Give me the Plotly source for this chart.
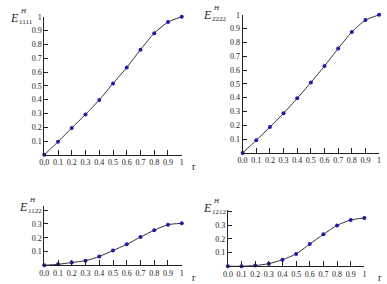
import plotly.graph_objects as go

r = [0.0, 0.1, 0.2, 0.3, 0.4, 0.5, 0.6, 0.7, 0.8, 0.9, 1.0]
e1111 = [0.0, 0.095, 0.195, 0.293, 0.398, 0.517, 0.633, 0.762, 0.881, 0.962, 1.0]
e2222 = [0.0, 0.091, 0.187, 0.287, 0.395, 0.510, 0.629, 0.756, 0.876, 0.962, 1.0]
e1122 = [0.0, 0.007, 0.020, 0.033, 0.064, 0.107, 0.152, 0.205, 0.255, 0.295, 0.305]
e1212 = [0.0, 0.0, 0.005, 0.019, 0.048, 0.090, 0.162, 0.233, 0.298, 0.338, 0.352]

xtick_vals = [0.0, 0.1, 0.2, 0.3, 0.4, 0.5, 0.6, 0.7, 0.8, 0.9, 1.0]
xtick_left = ["0,0", "0.1", "0.2", "0.3", "0.4", "0.5", "0.6", "0.7", "0.8", "0.9", "1"]
xtick_right = ["0.0", "0.1", "0.2", "0.3", "0.4", "0.5", "0.6", "0.7", "0.8", "0.9", "1"]
ytick_big_vals = [0.1, 0.2, 0.3, 0.4, 0.5, 0.6, 0.7, 0.8, 0.9, 1.0]
ytick_big = ["0.1", "0.2", "0.3", "0.4", "0.5", "0.6", "0.7", "0.8", "0.9", "1"]
ytick_small_vals = [0.1, 0.2, 0.3, 0.4]
ytick_small = ["0.1", "0.2", "0.3", ""]

W, H = 387, 284
FONT = "Liberation Serif"

def px_x(p):
    return p / W

def px_y(p):
    return 1 - p / H

panels = [
    (e1111, 40, 180, 153, 13, [0, 1.0], ytick_big_vals, ytick_big, xtick_left),
    (e2222, 242, 381, 151, 11, [0, 1.0], ytick_big_vals, ytick_big, xtick_right),
    (e1122, 40, 180, 265, 205, [0, 0.43], ytick_small_vals, ytick_small, xtick_left),
    (e1212, 227, 366, 266, 209, [0, 0.41], ytick_small_vals, ytick_small, xtick_right),
]

fig = go.Figure()
layout = dict(
    width=W, height=H, margin=dict(l=0, r=0, t=0, b=0),
    paper_bgcolor="white", plot_bgcolor="white", showlegend=False,
    font=dict(family=FONT, size=8, color="#222"),
)

for i, (ys, x0, x1, yb, yt, yr, yv, yl, xl) in enumerate(panels):
    n = "" if i == 0 else str(i + 1)
    fig.add_trace(go.Scatter(
        x=r, y=ys, mode="lines+markers",
        line=dict(color="#333333", width=1, shape="spline", smoothing=0.6),
        marker=dict(color="#1c1ca8", size=4, symbol="circle"),
        xaxis="x" + n, yaxis="y" + n, cliponaxis=False,
    ))
    layout["xaxis" + n] = dict(
        domain=[px_x(x0), px_x(x1)], range=[0, 1.0], anchor="y" + n,
        showgrid=False, zeroline=False, showline=True, linecolor="#222", linewidth=1,
        ticks="inside", ticklen=5, tickcolor="#222", tickwidth=1,
        tickvals=xtick_vals, ticktext=xl, tickfont=dict(size=8, family=FONT),
    )
    layout["yaxis" + n] = dict(
        domain=[px_y(yb), px_y(yt)], range=yr, anchor="x" + n,
        showgrid=False, zeroline=False, showline=True, linecolor="#222", linewidth=1,
        ticks="inside", ticklen=4, tickcolor="#222", tickwidth=1,
        tickvals=yv, ticktext=yl, tickfont=dict(size=8, family=FONT),
    )

fig.update_layout(**layout)

def label(x, y, text, size, italic=False):
    t = f"<i>{text}</i>" if italic else text
    fig.add_annotation(x=px_x(x), y=px_y(y), xref="paper", yref="paper",
                       text=t, showarrow=False, xanchor="left", yanchor="middle",
                       font=dict(family=FONT, size=size, color="#222"))

titles = [
    (4, 14, "1111"),
    (201, 11, "2222"),
    (13, 206, "1122"),
    (201, 207, "1212"),
]
for (x, y, sub) in titles:
    label(x - 1, y, "E", 12, italic=True)
    label(x + 9, y - 7, "H", 7, italic=True)
    label(x + 8, y + 4, sub, 7)

label(188, 165, "r", 10)
label(188, 277, "r", 10)
label(378, 277, "r", 10)

fig.write_html("out.html")
